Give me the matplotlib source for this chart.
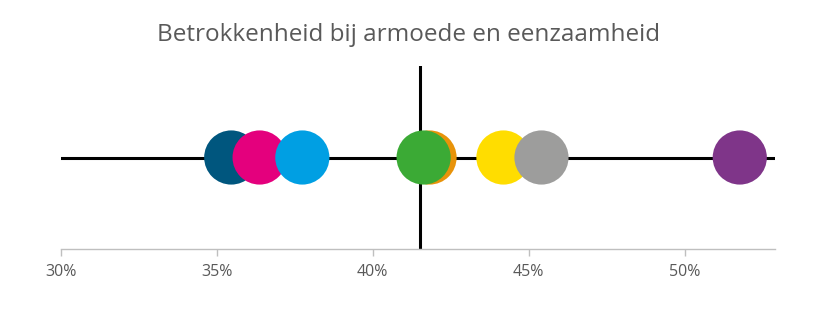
import matplotlib
matplotlib.use("Agg")
import matplotlib.pyplot as plt
from matplotlib.ticker import FuncFormatter

# data
title = "Betrokkenheid bij armoede en eenzaamheid"
groups = ["donkerblauw", "magenta", "lichtblauw", "oranje", "groen", "geel", "grijs", "paars"]
values = [35.46, 36.37, 37.74, 41.82, 41.63, 44.19, 45.41, 51.77]
colors = ["#00567E", "#E4007D", "#009FE3", "#E8930A", "#3BAA35", "#FFDD00", "#9D9D9C", "#7F3589"]
average = 41.53
x_ticks = [30, 35, 40, 45, 50]
x_range = (30, 52.9)

plt.rcParams["font.family"] = ["Open Sans", "DejaVu Sans"]

fig = plt.figure(figsize=(8.17, 3.11), dpi=100)
ax = fig.add_axes([61 / 817, 1 - 249 / 311, (775 - 61) / 817, (249 - 66) / 311])

ax.set_xlim(*x_range)
ax.set_ylim(0, 2)

ax.axhline(1, color="black", lw=2.2, zorder=1)
ax.axvline(average, color="black", lw=2.2, zorder=1)

for i, (v, c) in enumerate(zip(values, colors)):
    ax.scatter([v], [1], s=39 ** 2, color=c, edgecolors="none", zorder=2 + i)

ax.set_xticks(x_ticks)
ax.xaxis.set_major_formatter(FuncFormatter(lambda v, p: f"{v:.0f}%"))
ax.tick_params(axis="x", colors="#BFBFBF", labelcolor="#595959", labelsize=11.5,
               length=5, width=1, pad=6)
ax.set_yticks([])
for s in ["top", "right", "left"]:
    ax.spines[s].set_visible(False)
ax.spines["bottom"].set_color("#BFBFBF")
ax.spines["bottom"].set_linewidth(1)

fig.text(0.5, 1 - 35 / 311, title, ha="center", va="center", fontsize=17.5, color="#595959")

fig.savefig("out.png", dpi=100)
